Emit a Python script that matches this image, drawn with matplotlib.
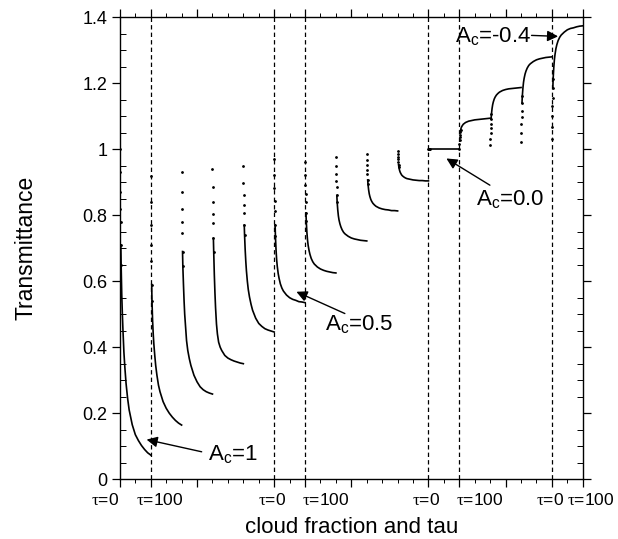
import matplotlib
matplotlib.use('Agg')
import matplotlib.pyplot as plt
import matplotlib.transforms as mtrans
from matplotlib.ticker import MultipleLocator, FixedLocator

plt.rcParams['font.family'] = ['Liberation Sans', 'DejaVu Sans']
plt.rcParams['mathtext.fontset'] = 'custom'
plt.rcParams['mathtext.rm'] = 'Liberation Sans'
plt.rcParams['mathtext.it'] = 'Liberation Serif'

# optical depth samples inside each cloud-fraction segment
TAU = [0, 0.5, 1, 1.5, 2, 3, 4, 6, 8, 10, 13, 16, 20, 25, 30, 40, 50, 60, 70, 80, 90, 100]

# A_c = 1
ac1 = [
    [1.0, 0.93, 0.87, 0.82, 0.78, 0.71, 0.65, 0.56, 0.50, 0.45, 0.385, 0.34, 0.29, 0.245, 0.21, 0.165, 0.135, 0.117, 0.102, 0.09, 0.08, 0.073],
    [0.92, 0.84, 0.77, 0.71, 0.66, 0.59, 0.54, 0.48, 0.44, 0.41, 0.375, 0.345, 0.315, 0.285, 0.265, 0.235, 0.215, 0.20, 0.188, 0.178, 0.17, 0.164],
    [0.93, 0.87, 0.82, 0.78, 0.745, 0.69, 0.645, 0.59, 0.54, 0.50, 0.46, 0.42, 0.39, 0.365, 0.345, 0.315, 0.295, 0.28, 0.271, 0.265, 0.261, 0.258],
    [0.94, 0.885, 0.84, 0.805, 0.777, 0.73, 0.69, 0.62, 0.565, 0.52, 0.47, 0.44, 0.415, 0.40, 0.39, 0.375, 0.367, 0.362, 0.358, 0.355, 0.352, 0.35],
    [0.948, 0.898, 0.862, 0.832, 0.807, 0.77, 0.74, 0.695, 0.66, 0.632, 0.60, 0.575, 0.552, 0.53, 0.512, 0.488, 0.472, 0.463, 0.456, 0.452, 0.449, 0.446],
]

# A_c = 0.5
ac05 = [
    [0.97, 0.923, 0.881, 0.843, 0.813, 0.771, 0.737, 0.695, 0.665, 0.645, 0.623, 0.608, 0.592, 0.579, 0.570, 0.558, 0.550, 0.545, 0.542, 0.538, 0.537, 0.535],
    [0.96, 0.923, 0.891, 0.863, 0.839, 0.807, 0.781, 0.748, 0.725, 0.709, 0.693, 0.681, 0.669, 0.659, 0.652, 0.643, 0.637, 0.633, 0.630, 0.628, 0.626, 0.625],
    [0.977, 0.949, 0.925, 0.903, 0.885, 0.860, 0.841, 0.816, 0.798, 0.786, 0.774, 0.765, 0.756, 0.748, 0.743, 0.736, 0.731, 0.728, 0.726, 0.724, 0.723, 0.722],
    [0.987, 0.968, 0.951, 0.936, 0.924, 0.907, 0.894, 0.877, 0.865, 0.857, 0.848, 0.842, 0.836, 0.831, 0.827, 0.822, 0.819, 0.817, 0.816, 0.814, 0.814, 0.813],
    [0.995, 0.985, 0.976, 0.969, 0.962, 0.953, 0.946, 0.937, 0.931, 0.927, 0.922, 0.919, 0.916, 0.913, 0.911, 0.909, 0.907, 0.906, 0.905, 0.905, 0.904, 0.904],
]

# A_c = 0.0 (flat) then down to A_c = -0.4
ac0 = [
    [1.0] * len(TAU),
    [1.0, 1.015, 1.028, 1.037, 1.043, 1.052, 1.058, 1.065, 1.069, 1.072, 1.076, 1.078, 1.081, 1.083, 1.085, 1.087, 1.089, 1.090, 1.091, 1.092, 1.093, 1.094],
    [1.012, 1.031, 1.048, 1.063, 1.075, 1.092, 1.106, 1.123, 1.135, 1.143, 1.152, 1.158, 1.164, 1.169, 1.173, 1.178, 1.181, 1.183, 1.184, 1.185, 1.186, 1.187],
    [1.022, 1.05, 1.075, 1.097, 1.115, 1.14, 1.16, 1.185, 1.203, 1.215, 1.228, 1.237, 1.246, 1.254, 1.259, 1.266, 1.271, 1.274, 1.276, 1.278, 1.279, 1.28],
    [1.03, 1.067, 1.101, 1.130, 1.154, 1.187, 1.214, 1.247, 1.271, 1.287, 1.305, 1.317, 1.329, 1.339, 1.346, 1.355, 1.362, 1.366, 1.368, 1.371, 1.373, 1.374],
]

dashed_x = [1, 5, 6, 10, 11, 14]
xtick_pos = [0, 1, 5, 6, 10, 11, 14, 15]
xtick_text = [r'$\tau$=0', r'$\tau$=100', r'$\tau$=0', r'$\tau$=100',
              r'$\tau$=0', r'$\tau$=100', r'$\tau$=0', r'$\tau$=100']
# nudges (points) so neighbouring labels do not collide
xtick_shift = [-11, 6.5, -1.5, 15, -1.5, 15, -1.5, 6]
xtick_major = [0, 1, 2.5, 5, 6, 7.5, 10, 11, 12.5, 14, 15]
ytick_pos = [0, 0.2, 0.4, 0.6, 0.8, 1.0, 1.2, 1.4]
ytick_text = ['0', '0.2', '0.4', '0.6', '0.8', '1', '1.2', '1.4']

fig = plt.figure(figsize=(6.18, 5.39), dpi=100)
ax = fig.add_axes([0.194, 0.111, 0.749, 0.857])

curves = ac1 + ac05 + ac0
for i, T in enumerate(curves):
    x = [i + t / 100.0 for t in TAU]
    # sparse dots where the curve is steep, solid trace after that
    ax.plot(x[:7], T[:7], ls='none', marker='o', ms=1.0, color='k')
    ax.plot(x[5:], T[5:], '-', lw=1.2, color='k')

for xd in dashed_x:
    ax.axvline(xd, color='k', lw=0.9, dashes=(3.5, 2.5))

ax.set_xlim(0, 15)
ax.set_ylim(0, 1.4)

ax.xaxis.set_major_locator(FixedLocator(xtick_major))
ax.xaxis.set_minor_locator(MultipleLocator(0.5))
ax.set_xticklabels([])
ax.set_yticks(ytick_pos)
ax.set_yticklabels(ytick_text, fontsize=13)
ax.yaxis.set_minor_locator(MultipleLocator(0.05))

base = ax.get_xaxis_transform()
for xp, txt, dx in zip(xtick_pos, xtick_text, xtick_shift):
    tr = base + mtrans.ScaledTranslation(dx / 72.0, -9 / 72.0, fig.dpi_scale_trans)
    ax.text(xp, 0, txt, transform=tr, ha='center', va='top', fontsize=12.5)

ax.tick_params(axis='x', which='major', direction='out', length=6, width=0.9, top=True)
ax.tick_params(axis='x', which='minor', direction='out', length=3, width=0.7, top=True)
ax.tick_params(axis='y', which='major', direction='out', length=6, width=0.9,
               right=True, pad=3)
ax.tick_params(axis='y', which='minor', direction='in', length=4, width=0.7, right=True)
for sp in ax.spines.values():
    sp.set_linewidth(1.0)

ax.set_ylabel('Transmittance', fontsize=16.5)
ax.yaxis.set_label_coords(-0.178, 0.5)
ax.set_xlabel('cloud fraction and tau', fontsize=16)
ax.xaxis.set_label_coords(0.5, -0.082)

arrow = dict(arrowstyle='-|>', color='k', lw=1.0, mutation_scale=16, shrinkA=0, shrinkB=0)

ax.text(2.85, 0.058, r'A$_\mathrm{c}$=1', fontsize=16, ha='left', va='baseline')
ax.annotate('', xy=(0.865, 0.12), xytext=(2.65, 0.083), arrowprops=arrow)

ax.text(6.64, 0.452, r'A$_\mathrm{c}$=0.5', fontsize=16, ha='left', va='baseline')
ax.annotate('', xy=(5.72, 0.568), xytext=(7.29, 0.502), arrowprops=arrow)

ax.text(11.55, 0.83, r'A$_\mathrm{c}$=0.0', fontsize=16, ha='left', va='baseline')
ax.annotate('', xy=(10.58, 0.972), xytext=(11.99, 0.891), arrowprops=arrow)

ax.text(10.85, 1.324, r'A$_\mathrm{c}$=-0.4', fontsize=16, ha='left', va='baseline')
ax.annotate('', xy=(14.2, 1.342), xytext=(13.34, 1.345), arrowprops=arrow)

fig.savefig('out.png', dpi=100)
